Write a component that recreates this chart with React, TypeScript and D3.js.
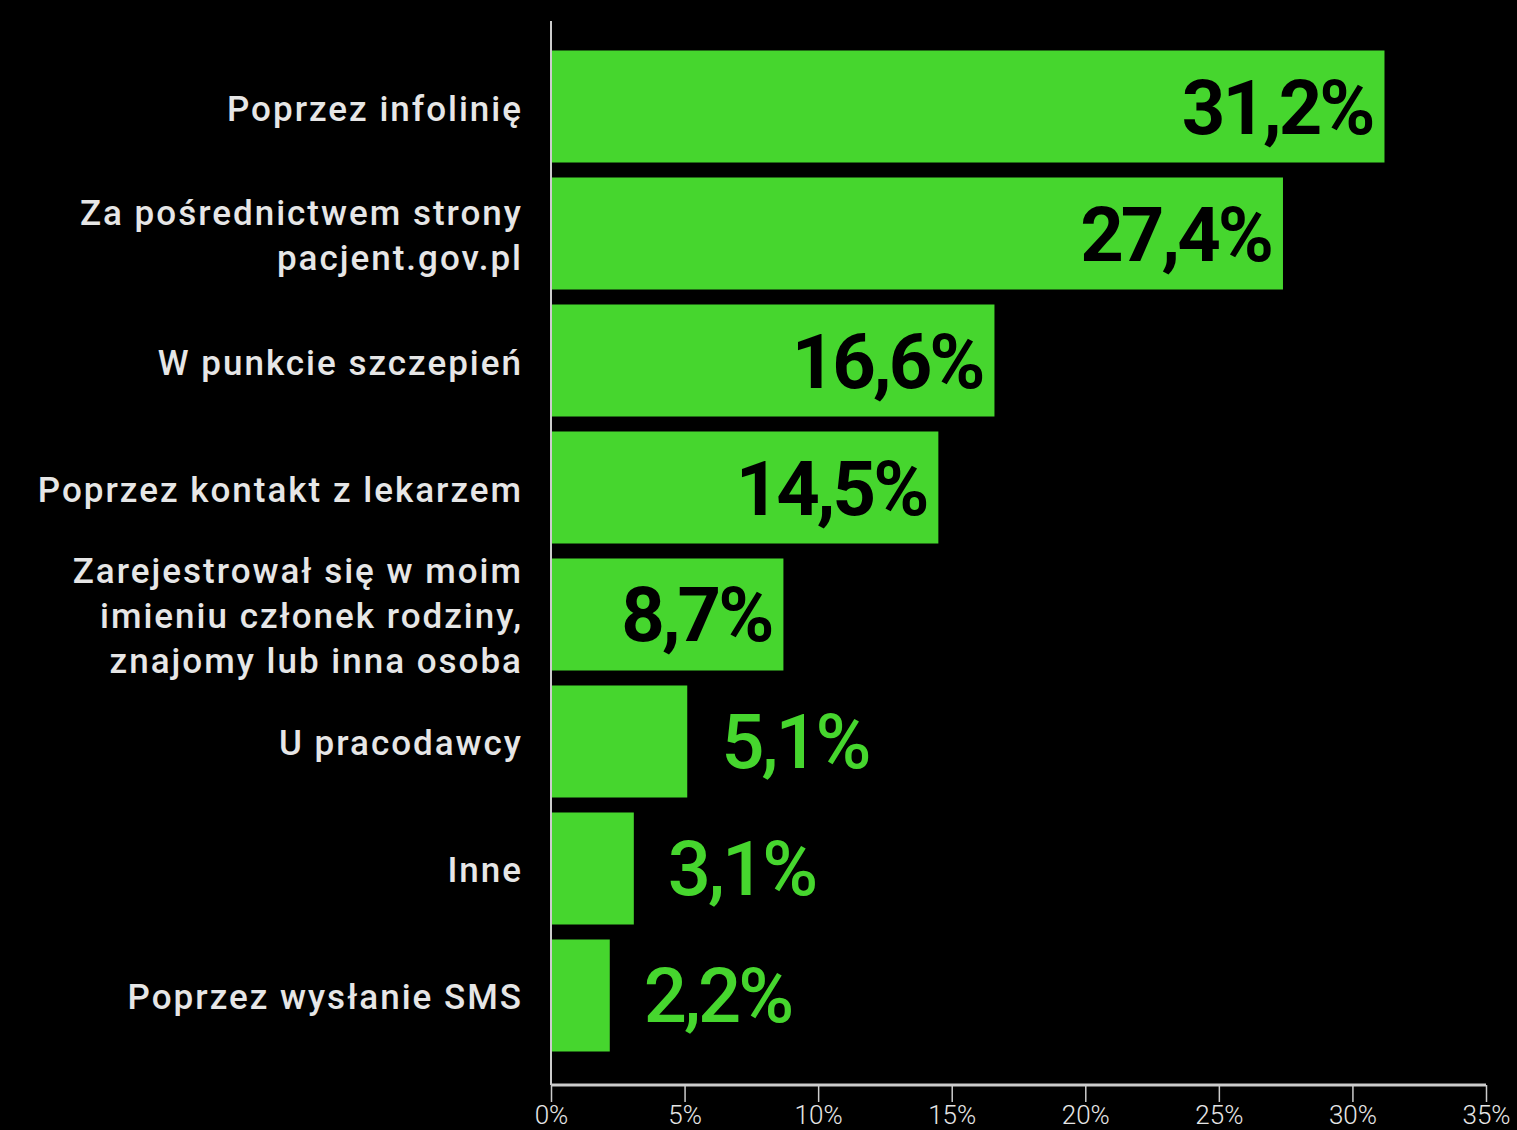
import React from "react";
import { useEffect, useRef } from "react";
import * as d3 from "d3";

// Chart data
const categories: string[][] = [
  ["Poprzez infolinię"],
  ["Za pośrednictwem strony", "pacjent.gov.pl"],
  ["W punkcie szczepień"],
  ["Poprzez kontakt z lekarzem"],
  ["Zarejestrował się w moim", "imieniu członek rodziny,", "znajomy lub inna osoba"],
  ["U pracodawcy"],
  ["Inne"],
  ["Poprzez wysłanie SMS"],
];
const values: number[] = [31.2, 27.4, 16.6, 14.5, 8.7, 5.1, 3.1, 2.2];
const ticks: number[] = [0, 5, 10, 15, 20, 25, 30, 35];

const App: React.FC = () => {
  const svgRef = useRef<SVGSVGElement | null>(null);
  const width = 1517;
  const height = 1130;
  const margin = { top: 21, right: 31, bottom: 45, left: 551 };
  const barColor = "#46d62e";
  const textColor = "#e6e6e6";
  const axisColor = "#cccccc";
  const font = "Roboto, 'Noto Sans', sans-serif";

  useEffect(() => {
    if (!svgRef.current) return;
    const svg = d3.select(svgRef.current);
    svg.selectAll("*").remove();

    const x = d3
      .scaleLinear()
      .domain([0, 35])
      .range([margin.left, width - margin.right]);

    const idx = d3.range(values.length).map(String);
    const y = d3
      .scaleBand()
      .domain(idx)
      .range([19, 1083])
      .paddingInner(0.118)
      .paddingOuter(0.248);

    // background
    svg
      .append("rect")
      .attr("width", width)
      .attr("height", height)
      .attr("fill", "#000");

    // bars
    svg
      .selectAll(".bar")
      .data(values)
      .enter()
      .append("rect")
      .attr("class", "bar")
      .attr("x", x(0))
      .attr("y", (_d, i) => y(String(i)) as number)
      .attr("width", (d) => x(d) - x(0))
      .attr("height", y.bandwidth())
      .attr("fill", barColor);

    // value labels: inside (black) for wide bars, outside (green) for narrow
    svg
      .selectAll(".value")
      .data(values)
      .enter()
      .append("text")
      .attr("class", "value")
      .attr("x", (d) => (d > 6 ? x(d) - 12 : x(d) + 34))
      .attr("y", (_d, i) => (y(String(i)) as number) + y.bandwidth() / 2 + 27)
      .attr("text-anchor", (d) => (d > 6 ? "end" : "start"))
      .attr("fill", (d) => (d > 6 ? "#000" : barColor))
      .style("font-family", font)
      .style("font-size", "76px")
      .style("font-weight", (d) => (d > 6 ? 700 : 500))
      .style("letter-spacing", "-3px")
      .text((d) => d.toFixed(1).replace(".", ",") + "%");

    // category labels
    const lineH = 45;
    categories.forEach((lines, i) => {
      const cy = (y(String(i)) as number) + y.bandwidth() / 2;
      const t = svg
        .append("text")
        .attr("x", margin.left - 28)
        .attr("text-anchor", "end")
        .attr("fill", textColor)
        .style("font-family", font)
        .style("font-size", "35px")
        .style("font-weight", 500)
        .style("letter-spacing", "2px");
      lines.forEach((line, j) => {
        t.append("tspan")
          .attr("x", margin.left - 28)
          .attr("y", cy + 14 + (j - (lines.length - 1) / 2) * lineH)
          .text(line);
      });
    });

    // y axis line
    svg
      .append("line")
      .attr("x1", x(0))
      .attr("x2", x(0))
      .attr("y1", margin.top)
      .attr("y2", height - margin.bottom)
      .attr("stroke", axisColor)
      .attr("stroke-width", 2);

    // x axis
    const xAxis = d3
      .axisBottom(x)
      .tickValues(ticks)
      .tickSize(17)
      .tickPadding(4)
      .tickFormat((d) => `${d}%`);

    const gx = svg
      .append("g")
      .attr("transform", `translate(0,${height - margin.bottom})`)
      .call(xAxis);
    gx.select(".domain")
      .attr("stroke", axisColor)
      .attr("stroke-width", 3)
      .attr("d", `M${x(0)},0H${x(35)}`);
    gx.selectAll(".tick line").attr("stroke", axisColor).attr("stroke-width", 1.5);
    gx.selectAll(".tick text")
      .attr("fill", textColor)
      .style("font-family", font)
      .style("font-size", "26px")
      .style("font-weight", 300);
  }, []);

  return (
    <svg
      ref={svgRef}
      width={width}
      height={height}
      style={{ position: "absolute", left: 0, top: 0, display: "block" }}
    ></svg>
  );
};

export default App;
